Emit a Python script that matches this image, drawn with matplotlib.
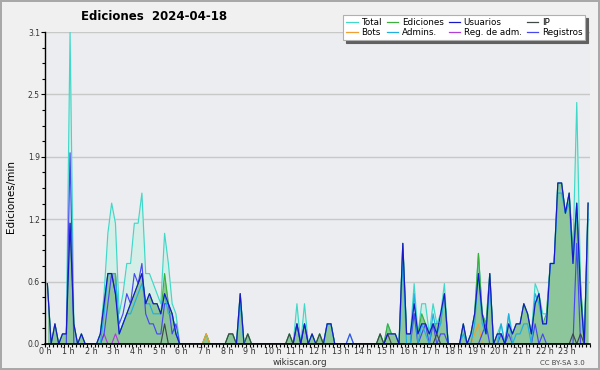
import numpy as np
import matplotlib
matplotlib.use("Agg")
import matplotlib.pyplot as plt
from matplotlib.ticker import MultipleLocator, FormatStrFormatter

# Ediciones por minuto, intervalos de 10 minutos (6 por hora)
total = [
    0.6, 0, 0.2, 0, 0.1, 0.1,
    3.1, 0.2, 0, 0.1, 0, 0,
    0, 0, 0.1, 0.5, 1.1, 1.4,
    1.2, 0.3, 0.5, 0.8, 0.8, 1.2,
    1.2, 1.5, 0.7, 0.7, 0.6, 0.5,
    0.4, 1.1, 0.8, 0.4, 0.3, 0,
    0, 0, 0, 0, 0, 0,
    0.1, 0, 0, 0, 0, 0,
    0.1, 0.1, 0, 0.5, 0, 0.1,
    0, 0, 0, 0, 0, 0,
    0, 0, 0, 0, 0.1, 0,
    0.4, 0, 0.4, 0, 0.1, 0,
    0.1, 0, 0.2, 0.2, 0, 0,
    0, 0, 0.1, 0, 0, 0,
    0, 0, 0, 0, 0.1, 0,
    0.2, 0.1, 0.1, 0, 1.0, 0.1,
    0.1, 0.6, 0.1, 0.4, 0.4, 0.1,
    0.4, 0.2, 0.3, 0.6, 0, 0,
    0, 0, 0.2, 0, 0.1, 0.3,
    0.9, 0.3, 0.2, 0.7, 0, 0.1,
    0.2, 0, 0.3, 0.1, 0.2, 0.2,
    0.4, 0.3, 0.1, 0.6, 0.5, 0.3,
    0.3, 0.8, 0.8, 1.6, 1.6, 1.3,
    1.5, 0.9, 2.4, 0.6, 0, 1.4,
]
ediciones = [
    0.6, 0, 0.2, 0, 0.1, 0.1,
    1.2, 0.2, 0, 0.1, 0, 0,
    0, 0, 0.1, 0.4, 0.7, 0.7,
    0.7, 0.1, 0.2, 0.3, 0.4, 0.5,
    0.6, 0.7, 0.4, 0.5, 0.4, 0.4,
    0.3, 0.7, 0.4, 0.3, 0.1, 0,
    0, 0, 0, 0, 0, 0,
    0.1, 0, 0, 0, 0, 0,
    0.1, 0.1, 0, 0.5, 0, 0.1,
    0, 0, 0, 0, 0, 0,
    0, 0, 0, 0, 0.1, 0,
    0.2, 0, 0.2, 0, 0.1, 0,
    0.1, 0, 0.2, 0.2, 0, 0,
    0, 0, 0, 0, 0, 0,
    0, 0, 0, 0, 0.1, 0,
    0.2, 0.1, 0.1, 0, 1.0, 0.1,
    0.1, 0.3, 0.1, 0.3, 0.2, 0.1,
    0.2, 0.2, 0.2, 0.5, 0, 0,
    0, 0, 0.2, 0, 0.1, 0.3,
    0.9, 0.3, 0.2, 0.7, 0, 0.1,
    0.1, 0, 0.2, 0.1, 0.2, 0.2,
    0.4, 0.3, 0.1, 0.4, 0.5, 0.2,
    0.3, 0.8, 0.8, 1.6, 1.6, 1.3,
    1.5, 0.9, 1.4, 0.6, 0, 1.4,
]
usuarios = [
    0.6, 0, 0.2, 0, 0.1, 0.1,
    1.2, 0.2, 0, 0.1, 0, 0,
    0, 0, 0.1, 0.4, 0.7, 0.7,
    0.5, 0.1, 0.2, 0.3, 0.4, 0.5,
    0.6, 0.7, 0.4, 0.5, 0.4, 0.4,
    0.3, 0.5, 0.4, 0.3, 0.1, 0,
    0, 0, 0, 0, 0, 0,
    0, 0, 0, 0, 0, 0,
    0, 0, 0, 0.5, 0, 0,
    0, 0, 0, 0, 0, 0,
    0, 0, 0, 0, 0, 0,
    0.2, 0, 0.2, 0, 0.1, 0,
    0, 0, 0.2, 0.2, 0, 0,
    0, 0, 0, 0, 0, 0,
    0, 0, 0, 0, 0, 0,
    0.1, 0.1, 0.1, 0, 1.0, 0.1,
    0.1, 0.4, 0.1, 0.2, 0.2, 0.1,
    0.2, 0.1, 0.3, 0.5, 0, 0,
    0, 0, 0.2, 0, 0.1, 0.3,
    0.7, 0.3, 0.1, 0.7, 0, 0.1,
    0.1, 0, 0.2, 0.1, 0.2, 0.2,
    0.4, 0.3, 0.1, 0.4, 0.5, 0.2,
    0.2, 0.8, 0.8, 1.6, 1.6, 1.3,
    1.5, 0.8, 1.4, 0.5, 0, 1.4,
]
admins = [
    0, 0, 0, 0, 0, 0,
    0, 0, 0, 0, 0, 0,
    0, 0, 0, 0.3, 0.7, 0.7,
    0.7, 0.1, 0.2, 0.3, 0.3, 0.4,
    0.5, 0.6, 0.4, 0.4, 0.3, 0.3,
    0.3, 0.5, 0.3, 0.3, 0.1, 0,
    0, 0, 0, 0, 0, 0,
    0, 0, 0, 0, 0, 0,
    0, 0, 0, 0.4, 0, 0,
    0, 0, 0, 0, 0, 0,
    0, 0, 0, 0, 0, 0,
    0, 0, 0, 0, 0, 0,
    0, 0, 0.2, 0.2, 0, 0,
    0, 0, 0, 0, 0, 0,
    0, 0, 0, 0, 0, 0,
    0, 0, 0, 0, 0.8, 0,
    0, 0.5, 0, 0.2, 0.1, 0,
    0.3, 0.1, 0.2, 0.5, 0, 0,
    0, 0, 0.1, 0, 0, 0.2,
    0.7, 0.2, 0.1, 0.6, 0, 0,
    0.2, 0, 0.3, 0, 0.1, 0.1,
    0.2, 0.2, 0, 0.5, 0.4, 0.2,
    0.2, 0.8, 0.8, 1.5, 1.5, 1.3,
    1.4, 0.8, 1.3, 0.5, 0, 1.3,
]
registros = [
    0, 0, 0, 0, 0, 0,
    1.9, 0, 0, 0, 0, 0,
    0, 0, 0, 0.1, 0.4, 0.7,
    0.5, 0.2, 0.3, 0.5, 0.4, 0.7,
    0.6, 0.8, 0.3, 0.2, 0.2, 0.1,
    0.1, 0.4, 0.4, 0.1, 0.2, 0,
    0, 0, 0, 0, 0, 0,
    0, 0, 0, 0, 0, 0,
    0, 0, 0, 0, 0, 0,
    0, 0, 0, 0, 0, 0,
    0, 0, 0, 0, 0, 0,
    0.2, 0, 0.2, 0, 0, 0,
    0, 0, 0, 0, 0, 0,
    0, 0, 0.1, 0, 0, 0,
    0, 0, 0, 0, 0, 0,
    0, 0, 0, 0, 0, 0,
    0, 0.3, 0, 0.1, 0.2, 0,
    0.2, 0, 0.1, 0.1, 0, 0,
    0, 0, 0, 0, 0, 0,
    0, 0.1, 0.2, 0, 0, 0,
    0.1, 0, 0.1, 0, 0, 0,
    0, 0, 0, 0.2, 0, 0.1,
    0, 0, 0, 0, 0, 0,
    0, 0, 1.0, 0, 0, 0,
]
# eventos sueltos: (índice de intervalo, valor)
ip = {31: 0.2, 48: 0.1, 49: 0.1, 53: 0.1, 64: 0.1, 72: 0.1, 88: 0.1,
      90: 0.1, 103: 0.1, 139: 0.1, 141: 0.1}
bots = {42: 0.1, 113: 0.1, 114: 0.2}
reg_adm = {15: 0.1, 18: 0.1}

hour_labels = [f"{h} h" for h in range(24)]


def main():
    n = len(total)
    x = (np.arange(n) + 0.5) / 6.0

    def sparse(d):
        arr = np.zeros(n)
        for k, v in d.items():
            arr[k] = v
        return arr

    fig = plt.figure(figsize=(6, 3.7), dpi=100)
    fig.patch.set_facecolor('#f0f0f0')
    fig.patch.set_edgecolor('#a8a8a8')
    fig.patch.set_linewidth(1.5)

    ax = fig.add_axes([0.0758, 0.0703, 0.9075, 0.843])
    ax.set_facecolor('#ecedf0')

    ax.fill_between(x, total, color='#d6eee8', lw=0)
    ax.fill_between(x, ediciones, color='#8ec69c', lw=0)

    lw = 0.85
    ax.plot(x, total, color='#40d8c8', lw=lw, label='Total')
    ax.plot(x, ediciones, color='#3cb03c', lw=lw, label='Ediciones')
    ax.plot(x, sparse(bots), color='#f0a030', lw=lw, label='Bots')
    ax.plot(x, sparse(reg_adm), color='#b040d8', lw=lw, label='Reg. de adm.')
    ax.plot(x, registros, color='#4848f0', lw=lw, label='Registros')
    ax.plot(x, sparse(ip), color='#404848', lw=lw, label='IP')
    ax.plot(x, admins, color='#20b0e0', lw=lw, label='Admins.')
    ax.plot(x, usuarios, color='#1818c8', lw=lw, label='Usuarios')

    ax.set_xlim(0, 24)
    ax.set_ylim(0, 3.1)
    ax.set_xticks(range(24))
    ax.set_xticklabels(hour_labels)
    ax.xaxis.set_minor_locator(MultipleLocator(1 / 6))
    ax.yaxis.set_major_locator(MultipleLocator(0.62))
    ax.yaxis.set_minor_locator(MultipleLocator(0.155))
    ax.yaxis.set_major_formatter(FormatStrFormatter('%.1f'))
    ax.tick_params(axis='x', which='both', direction='out', length=2.2,
                   width=0.8, labelsize=5.8, pad=0.3, colors='black',
                   labelcolor='#333333')
    ax.tick_params(axis='y', which='major', direction='out', length=3,
                   width=0.8, labelsize=5.5, pad=1, labelcolor='#333333')
    ax.tick_params(axis='y', which='minor', direction='out', length=2,
                   width=0.8)
    ax.grid(True, axis='y', which='major', color='#c8c8c8', lw=1)
    ax.set_axisbelow(True)
    for s in ('top', 'right'):
        ax.spines[s].set_visible(False)
    ax.spines['left'].set_linewidth(1)
    ax.spines['bottom'].set_linewidth(1.2)

    # leyenda en 4 columnas, ordenada por filas
    h, l = ax.get_legend_handles_labels()
    d = dict(zip(l, h))
    order = ['Total', 'Bots', 'Ediciones', 'Admins.', 'Usuarios',
             'Reg. de adm.', 'IP', 'Registros']
    leg = fig.legend([d[k] for k in order], order, ncol=4,
                     loc='upper right', bbox_to_anchor=(0.983, 0.972),
                     fontsize=6.3, handlelength=1.3, handletextpad=0.4,
                     columnspacing=0.6, labelspacing=0.15, borderpad=0.35,
                     fancybox=False, framealpha=1, edgecolor='#b0b0b0',
                     shadow={'color': '#606060', 'alpha': 1})
    leg.get_frame().set_linewidth(0.8)
    for line in leg.get_lines():
        line.set_linewidth(0.9)

    fig.text(0.257, 0.955, 'Ediciones  2024-04-18', ha='center', va='center',
             fontsize=8.5, fontweight='bold')
    fig.text(0.018, 0.47, 'Ediciones/min', rotation=90, ha='center',
             va='center', fontsize=7.5)
    fig.text(0.5, 0.02, 'wikiscan.org', ha='center', va='center',
             fontsize=6.3, color='#333333')
    fig.text(0.937, 0.02, 'CC BY-SA 3.0', ha='center', va='center',
             fontsize=5, color='#444444')

    fig.savefig('out.png', dpi=100, facecolor=fig.get_facecolor(),
                edgecolor=fig.get_edgecolor())


if __name__ == "__main__":
    main()
